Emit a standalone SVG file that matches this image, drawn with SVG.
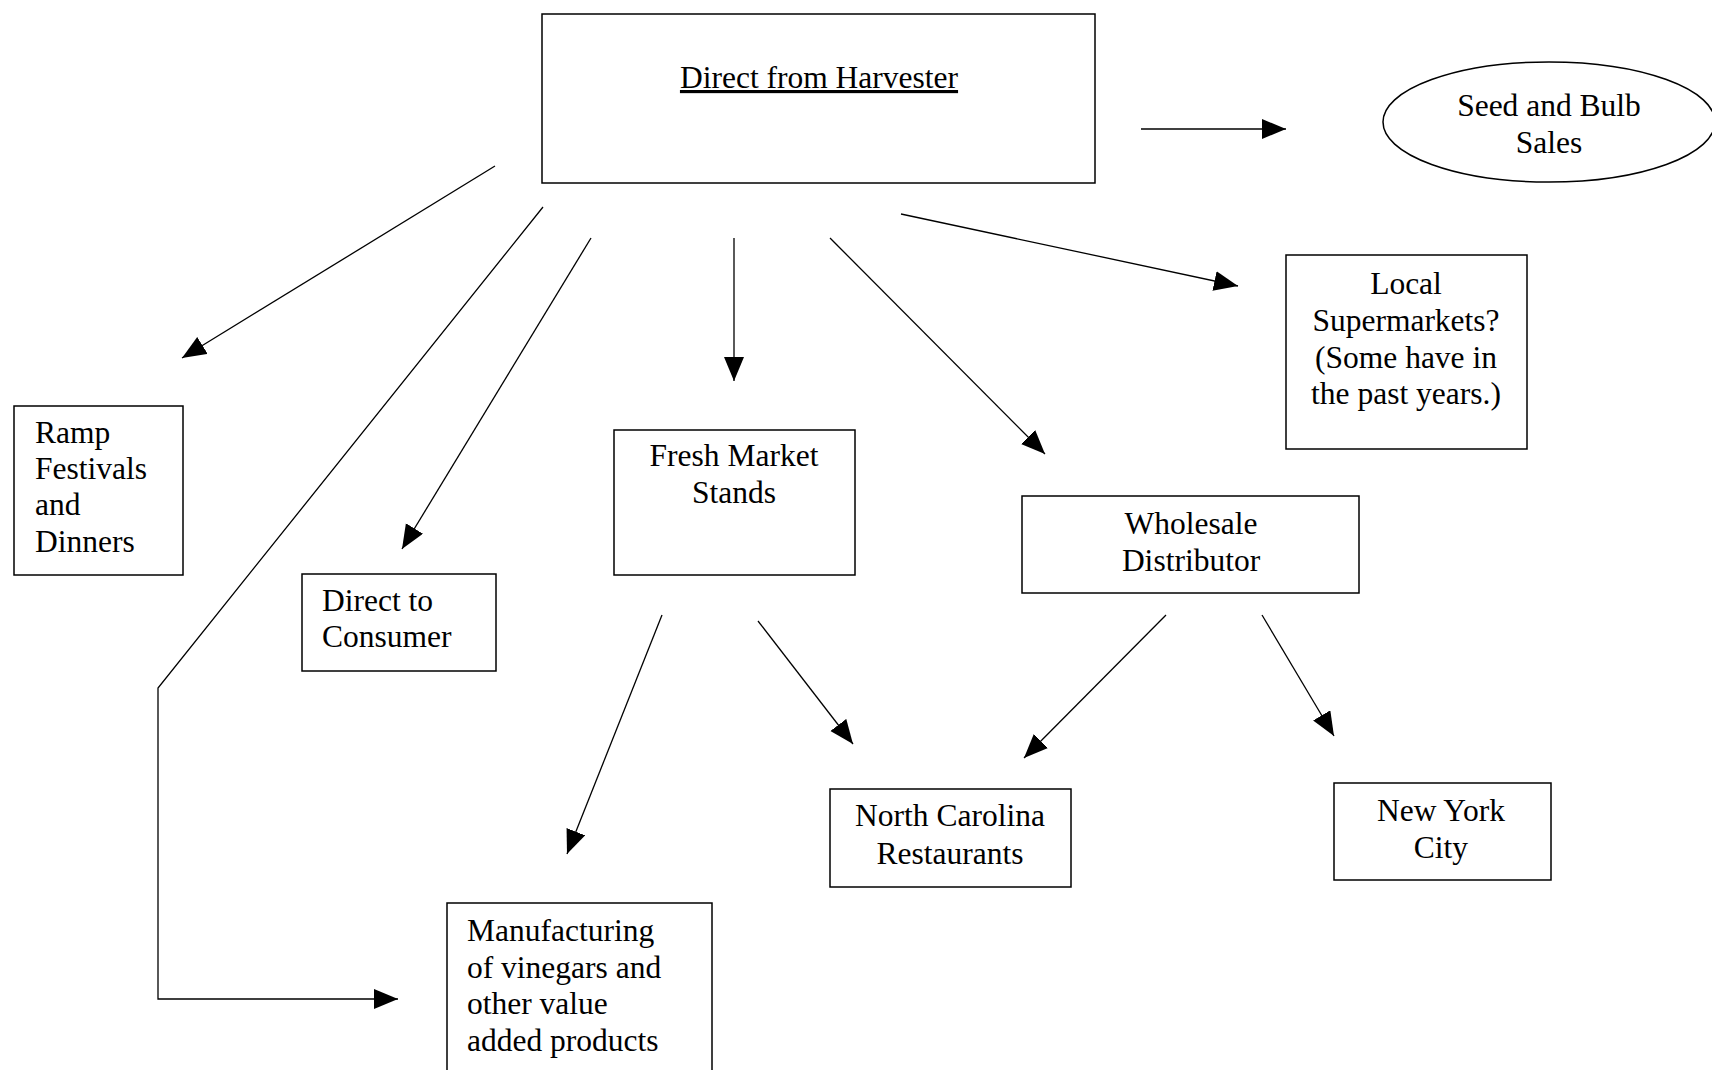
<svg xmlns="http://www.w3.org/2000/svg" width="1712" height="1070" viewBox="0 0 1712 1070">
<style>
.box{fill:#fff;stroke:#000;stroke-width:1.5}
.t{font-family:"Liberation Serif","Times New Roman",serif;font-size:31.5px;fill:#000}
.c{text-anchor:middle}
.ln{fill:none;stroke:#000;stroke-width:1.3}
</style>
<defs>
<marker id="ah" markerUnits="userSpaceOnUse" markerWidth="26" markerHeight="22" refX="24" refY="10" orient="auto">
<path d="M0,0 L24,10 L0,20 Z" fill="#000"/>
</marker>
</defs>
<rect width="1712" height="1070" fill="#fff"/>
<g id="connectors">
<line class="ln" x1="1141" y1="129" x2="1286" y2="129" marker-end="url(#ah)"/>
<line class="ln" x1="901" y1="214" x2="1238" y2="286" marker-end="url(#ah)"/>
<line class="ln" x1="495" y1="166" x2="182" y2="358" marker-end="url(#ah)"/>
<polyline class="ln" points="543,207 158,688 158,999 398,999" marker-end="url(#ah)"/>
<line class="ln" x1="591" y1="238" x2="402" y2="549" marker-end="url(#ah)"/>
<line class="ln" x1="734" y1="238" x2="734" y2="381" marker-end="url(#ah)"/>
<line class="ln" x1="830" y1="238" x2="1045" y2="454" marker-end="url(#ah)"/>
<line class="ln" x1="662" y1="615" x2="567" y2="854" marker-end="url(#ah)"/>
<line class="ln" x1="758" y1="621" x2="853" y2="744" marker-end="url(#ah)"/>
<line class="ln" x1="1166" y1="615" x2="1024" y2="758" marker-end="url(#ah)"/>
<line class="ln" x1="1262" y1="615" x2="1334" y2="736" marker-end="url(#ah)"/>
</g>
<g id="harvester">
<rect class="box" x="542" y="14" width="553" height="169"/>
<text class="t c" x="819" y="88" text-decoration="underline">Direct from Harvester</text>
</g>
<g id="seed">
<ellipse class="box" cx="1549" cy="122" rx="166" ry="60"/>
<text class="t c" x="1549" y="116">Seed and Bulb</text>
<text class="t c" x="1549" y="153">Sales</text>
</g>
<g id="supermarkets">
<rect class="box" x="1286" y="255" width="241" height="194"/>
<text class="t c" x="1406" y="294">Local</text>
<text class="t c" x="1406" y="331">Supermarkets?</text>
<text class="t c" x="1406" y="368">(Some have in</text>
<text class="t c" x="1406" y="404">the past years.)</text>
</g>
<g id="ramp">
<rect class="box" x="14" y="406" width="169" height="169"/>
<text class="t" x="35" y="443">Ramp</text>
<text class="t" x="35" y="479">Festivals</text>
<text class="t" x="35" y="515">and</text>
<text class="t" x="35" y="552">Dinners</text>
</g>
<g id="consumer">
<rect class="box" x="302" y="574" width="194" height="97"/>
<text class="t" x="322" y="611">Direct to</text>
<text class="t" x="322" y="647">Consumer</text>
</g>
<g id="fresh">
<rect class="box" x="614" y="430" width="241" height="145"/>
<text class="t c" x="734" y="466">Fresh Market</text>
<text class="t c" x="734" y="503">Stands</text>
</g>
<g id="wholesale">
<rect class="box" x="1022" y="496" width="337" height="97"/>
<text class="t c" x="1191" y="534">Wholesale</text>
<text class="t c" x="1191" y="571">Distributor</text>
</g>
<g id="nc">
<rect class="box" x="830" y="789" width="241" height="98"/>
<text class="t c" x="950" y="826">North Carolina</text>
<text class="t c" x="950" y="864">Restaurants</text>
</g>
<g id="ny">
<rect class="box" x="1334" y="783" width="217" height="97"/>
<text class="t c" x="1441" y="821">New York</text>
<text class="t c" x="1441" y="858">City</text>
</g>
<g id="manufacturing">
<rect class="box" x="447" y="903" width="265" height="180"/>
<text class="t" x="467" y="941">Manufacturing</text>
<text class="t" x="467" y="978">of vinegars and</text>
<text class="t" x="467" y="1014">other value</text>
<text class="t" x="467" y="1051">added products</text>
</g>
</svg>
